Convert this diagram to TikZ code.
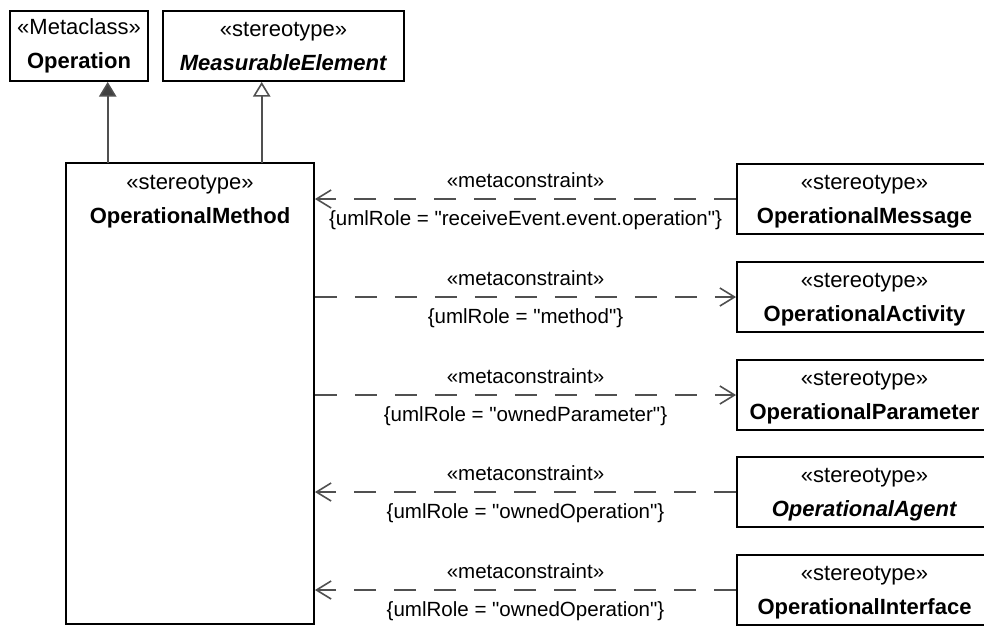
\documentclass[tikz,border=0pt]{standalone}
\usepackage{fontspec}
\setmainfont{Liberation Sans}
\usetikzlibrary{arrows.meta}
\definecolor{lineGray}{RGB}{80, 80, 80}
\definecolor{tipGray}{RGB}{64, 64, 64}

\begin{document}
\begin{tikzpicture}[x=0.75pt, y=-0.75pt,
    box/.style={draw, line width=1.4pt, align=center, inner sep=0pt,
      font=\fontsize{16.5}{25.5}\selectfont},
    sidebox/.style={box, minimum width=191.25pt, minimum height=52.5pt, text depth=0pt},
    gen/.style={draw=lineGray, line width=1.2pt},
    dep/.style={draw=lineGray, line width=1.2pt, dash pattern=on 16.25pt off 13.75pt,
      -{Straight Barb[length=11pt, width=13.5pt]}},
    lbl/.style={font=\fontsize{15.4}{18}\selectfont, anchor=base}]
    \useasboundingbox (0,0) rectangle (984,626);
    \node[box, minimum width=103.5pt, minimum height=52.5pt] (operation) at (79,46)
      {«Metaclass»\\\textbf{Operation}};
    \node[box, minimum width=180.75pt, minimum height=52.5pt] (measurable) at (283.5,46)
      {«stereotype»\\\textbf{\textit{MeasurableElement}}};
    \node[box, minimum width=186pt, minimum height=345.75pt] (method) at (190,393.5) {};
    \node[box, draw=none, anchor=north] (methodname) at ([yshift=-9pt]method.north)
      {«stereotype»\\\textbf{OperationalMethod}};
    \node[sidebox] (message) at (864.5,199) {«stereotype»\\\textbf{OperationalMessage}};
    \node[sidebox] (activity) at (864.5,297) {«stereotype»\\\textbf{OperationalActivity}};
    \node[sidebox] (parameter) at (864.5,395) {«stereotype»\\\textbf{OperationalParameter}};
    \node[sidebox] (agent) at (864.5,492) {«stereotype»\\\textbf{\textit{OperationalAgent}}};
    \node[sidebox] (interface) at (864.5,590) {«stereotype»\\\textbf{OperationalInterface}};

    \coordinate (gop) at (107.7,163);
    \coordinate (gme) at (261.7,163);
    \draw[gen, -{Triangle[length=11pt, width=13pt, fill=tipGray]}] (gop) -- (gop |- operation.south);
    \draw[gen, -{Triangle[open, length=11pt, width=13pt, fill=white]}] (gme) -- (gme |- measurable.south);

    \draw[dep] (message.west) -- (message.west -| method.east)
      node[lbl, midway, yshift=9pt] (l1a) {«metaconstraint»}
      node[lbl, midway, yshift=-19.5pt] (l1b) {\{umlRole = \textquotedbl receiveEvent.event.operation\textquotedbl\}};
    \draw[dep] (activity.west -| method.east) -- (activity.west)
      node[lbl, midway, yshift=9pt] (l2a) {«metaconstraint»}
      node[lbl, midway, yshift=-19.5pt] (l2b) {\{umlRole = \textquotedbl method\textquotedbl\}};
    \draw[dep] (parameter.west -| method.east) -- (parameter.west)
      node[lbl, midway, yshift=9pt] (l3a) {«metaconstraint»}
      node[lbl, midway, yshift=-19.5pt] (l3b) {\{umlRole = \textquotedbl ownedParameter\textquotedbl\}};
    \draw[dep] (agent.west) -- (agent.west -| method.east)
      node[lbl, midway, yshift=9pt] (l4a) {«metaconstraint»}
      node[lbl, midway, yshift=-19.5pt] (l4b) {\{umlRole = \textquotedbl ownedOperation\textquotedbl\}};
    \draw[dep] (interface.west) -- (interface.west -| method.east)
      node[lbl, midway, yshift=9pt] (l5a) {«metaconstraint»}
      node[lbl, midway, yshift=-19.5pt] (l5b) {\{umlRole = \textquotedbl ownedOperation\textquotedbl\}};
  \end{tikzpicture}
\end{document}
